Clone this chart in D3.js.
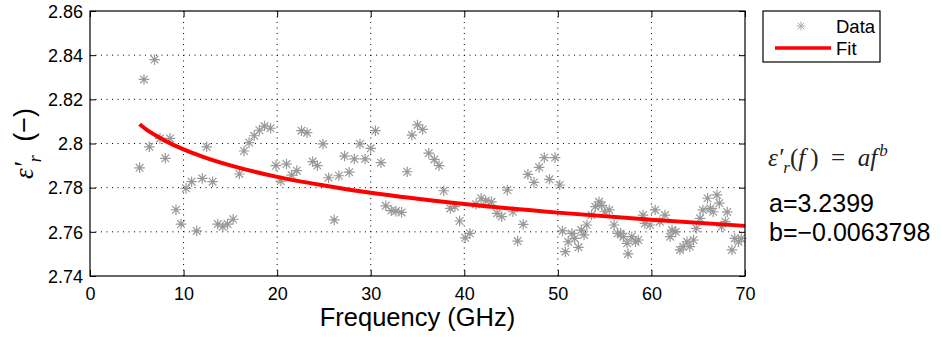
<!DOCTYPE html>
<html><head><meta charset="utf-8">
<script src="https://cdn.jsdelivr.net/npm/d3@7"></script>
<style>body{margin:0;background:#fff}svg{display:block}</style>
</head><body>
<svg id="c" width="942" height="337"></svg>
<script>
// ---- data ----
const freqGHz = [5.3,5.77,6.34,6.9,7.48,8.05,8.55,9.19,9.73,10.26,10.86,11.4,12.0,12.47,13.1,13.65,14.2,14.7,15.3,15.96,16.46,17.0,17.55,18.1,18.65,19.3,19.88,20.4,21.0,21.55,22.1,22.6,23.2,23.8,24.3,24.9,25.5,26.1,26.6,27.2,27.7,28.25,28.85,29.4,30.0,30.5,31.1,31.6,32.2,32.7,33.3,33.9,34.4,35.0,35.55,36.2,36.8,37.3,37.8,38.5,39.0,39.5,40.1,40.6,41.25,41.8,42.3,42.9,43.5,44.0,44.6,45.2,45.7,46.3,46.8,47.45,48.0,48.55,49.1,49.7,50.2,50.5,50.8,51.1,51.5,51.8,52.2,52.5,52.8,53.1,53.6,54.0,54.4,54.7,55.0,55.5,56.0,56.4,56.7,57.0,57.4,57.5,57.9,58.3,58.6,59.1,59.3,59.85,60.4,60.9,61.45,62.0,62.2,62.6,63.05,63.4,63.8,64.1,64.5,64.8,65.2,65.5,66.0,66.3,66.6,67.0,67.25,67.5,67.9,68.1,68.6,68.9,69.3,69.6];
const epsData = [2.789,2.829,2.7985,2.838,2.8023,2.7933,2.8023,2.770,2.7635,2.7797,2.7827,2.7604,2.7842,2.7985,2.7827,2.7635,2.7623,2.7635,2.7657,2.7862,2.7966,2.8004,2.8035,2.806,2.8079,2.8069,2.790,2.783,2.7907,2.7857,2.7877,2.8058,2.8049,2.7918,2.790,2.7998,2.7845,2.7654,2.7854,2.7943,2.787,2.793,2.7998,2.793,2.7978,2.8058,2.7913,2.7718,2.7696,2.7694,2.7688,2.7872,2.8038,2.8084,2.8064,2.7956,2.7928,2.790,2.7786,2.7706,2.7714,2.7649,2.7573,2.7593,2.7725,2.7752,2.7741,2.7736,2.7684,2.7669,2.7789,2.7691,2.7558,2.7634,2.786,2.7824,2.7892,2.7936,2.7838,2.7936,2.7812,2.7604,2.751,2.7555,2.7593,2.757,2.753,2.7608,2.7586,2.7631,2.7676,2.7714,2.7736,2.772,2.7691,2.7699,2.7631,2.7593,2.7593,2.7578,2.7548,2.750,2.7578,2.7555,2.7563,2.7676,2.7638,2.7631,2.7699,2.7646,2.7676,2.7578,2.7608,2.760,2.7518,2.7533,2.7555,2.7533,2.7563,2.7616,2.7661,2.7699,2.7752,2.7706,2.7691,2.7767,2.773,2.7623,2.7646,2.769,2.7518,2.757,2.7555,2.757];
const fitFreqGHz = [5.3,6,7,8,10,12,15,20,25,30,40,50,60,70];
const fitEps = [2.8087,2.8064,2.8037,2.8013,2.7973,2.7941,2.7901,2.7849,2.7810,2.7777,2.7726,2.7687,2.7655,2.7627];
const xTicks = [0,10,20,30,40,50,60,70];
const yTicks = [2.74,2.76,2.78,2.80,2.82,2.84,2.86];
const yTickLabels = ["2.74","2.76","2.78","2.8","2.82","2.84","2.86"];
const legendLabels = ["Data","Fit"];
const paramA = "3.2399", paramB = "\u22120.0063798";

// ---- drawing ----
const svg = d3.select("#c");
const L = 90, R = 745, T = 11, B = 276;
const x = d3.scaleLinear().domain([0,70]).range([L,R]);
const y = d3.scaleLinear().domain([2.74,2.86]).range([B,T]);
const sans = "'Liberation Sans', Arial, Helvetica, sans-serif";
const serif = "'Liberation Serif', 'Times New Roman', serif";

// grid
const g = svg.append("g");
g.selectAll("line.gx").data(xTicks.slice(1,-1)).enter().append("line")
  .attr("x1",d=>x(d)).attr("x2",d=>x(d)).attr("y1",T).attr("y2",B)
  .attr("stroke","#000").attr("stroke-width",1).attr("stroke-dasharray","1,4.5");
g.selectAll("line.gy").data(yTicks.slice(1,-1)).enter().append("line")
  .attr("y1",d=>y(d)).attr("y2",d=>y(d)).attr("x1",L).attr("x2",R)
  .attr("stroke","#000").attr("stroke-width",1).attr("stroke-dasharray","1,4.5");

// data markers
const star = (r)=>{const d=r*0.72;return `M${-r},0H${r}M0,${-r}V${r}M${-d},${-d}L${d},${d}M${-d},${d}L${d},${-d}`;};
svg.append("g").selectAll("path").data(freqGHz.map((f,i)=>[f,epsData[i]])).enter().append("path")
  .attr("transform",d=>`translate(${x(d[0])},${y(d[1])})`)
  .attr("d",star(5.3)).attr("stroke","#999").attr("stroke-width",1.2).attr("fill","none");

// fit line
const line = d3.line().x(d=>x(d[0])).y(d=>y(d[1])).curve(d3.curveMonotoneX);
svg.append("path").datum(fitFreqGHz.map((f,i)=>[f,fitEps[i]]))
  .attr("d",line).attr("stroke","#ff0000").attr("stroke-width",4).attr("fill","none");

// axes box
svg.append("rect").attr("x",L).attr("y",T).attr("width",R-L).attr("height",B-T)
  .attr("fill","none").attr("stroke","#000").attr("stroke-width",1.2);

// ticks (inward, all four sides) using d3 axes
const tl = 6;
const axB = d3.axisBottom(x).tickValues(xTicks).tickSize(-tl).tickFormat(d=>d);
const axT = d3.axisTop(x).tickValues(xTicks).tickSize(-tl).tickFormat("");
const axLf = d3.axisLeft(y).tickValues(yTicks).tickSize(-tl).tickFormat((d,i)=>yTickLabels[i]);
const axRt = d3.axisRight(y).tickValues(yTicks).tickSize(-tl).tickFormat("");
function style(sel){
  sel.select(".domain").remove();
  sel.selectAll(".tick line").attr("stroke","#000").attr("stroke-width",1);
  sel.selectAll(".tick text").attr("fill","#000").style("font-family",sans).style("font-size","18px");
}
svg.append("g").attr("transform",`translate(0,${B})`).call(axB).call(style)
  .selectAll(".tick text").attr("dy",null).attr("y",24);
svg.append("g").attr("transform",`translate(0,${T})`).call(axT).call(style);
svg.append("g").attr("transform",`translate(${L},0)`).call(axLf).call(style)
  .selectAll(".tick text").attr("x",-7).attr("dy","0.35em");
svg.append("g").attr("transform",`translate(${R},0)`).call(axRt).call(style);

// axis labels
svg.append("text").attr("x",(L+R)/2).attr("y",326).attr("text-anchor","middle")
  .style("font-family",sans).style("font-size","25.5px").text("Frequency (GHz)");
const yl = svg.append("text").attr("transform",`translate(33,${(T+B)/2}) rotate(-90)`)
  .attr("text-anchor","middle").style("font-size","27px");
yl.append("tspan").style("font-family",serif).style("font-style","italic").text("\u03B5\u2032");
yl.append("tspan").style("font-family",serif).style("font-style","italic").style("font-size","18px").attr("dy",8).text("r");
yl.append("tspan").style("font-family",sans).attr("dy",-8).text("\u2002(\u2212)");

// legend
svg.append("rect").attr("x",763).attr("y",11).attr("width",117).attr("height",51)
  .attr("fill","#fff").attr("stroke","#000").attr("stroke-width",1.2);
svg.append("path").attr("transform","translate(801,26)").attr("d",star(4.5))
  .attr("stroke","#aaa").attr("stroke-width",1).attr("fill","none");
svg.append("line").attr("x1",775).attr("x2",831).attr("y1",48).attr("y2",48)
  .attr("stroke","#ff0000").attr("stroke-width",3.5);
svg.selectAll("text.lg").data(legendLabels).enter().append("text")
  .attr("x",836).attr("y",(d,i)=>33+i*22).style("font-family",sans).style("font-size","18.5px").text(d=>d);

// equation
const eq = svg.append("text").attr("x",768).attr("y",166).style("font-family",serif).style("font-size","25px").attr("fill","#222");
eq.append("tspan").style("font-style","italic").text("\u03B5\u2032");
eq.append("tspan").style("font-style","italic").style("font-size","17px").attr("dy",7).text("r");
eq.append("tspan").attr("dy",-7).text("(");
eq.append("tspan").style("font-style","italic").text("f");
eq.append("tspan").text("\u2009)\u2002=\u2002");
eq.append("tspan").style("font-style","italic").text("af");
eq.append("tspan").style("font-style","italic").style("font-size","17px").attr("dx",2).attr("dy",-10).text("b");

svg.append("text").attr("x",769).attr("y",212).style("font-family",sans).style("font-size","25px").text("a="+paramA);
svg.append("text").attr("x",769).attr("y",241).style("font-family",sans).style("font-size","25px").text("b="+paramB);
</script>
</body></html>
